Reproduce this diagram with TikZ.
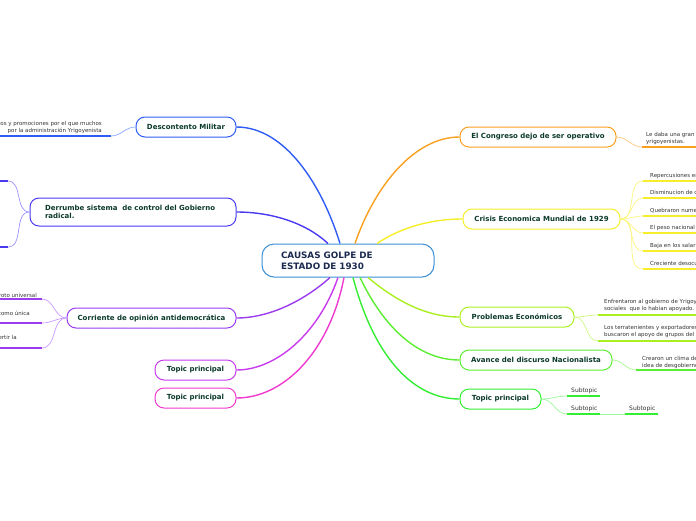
\documentclass[tikz,border=0pt]{standalone}
\usepackage{fontspec}
\setmainfont{DejaVu Sans}
\definecolor{cblue}{HTML}{3B8FD4}
\definecolor{navy}{HTML}{1B2B50}
\definecolor{txt}{HTML}{0B3A2A}
\definecolor{leafc}{HTML}{333333}
\definecolor{cDes}{HTML}{2F5CF5}\definecolor{lDes}{HTML}{88A8FF}
\definecolor{cDer}{HTML}{4A3AF0}\definecolor{lDer}{HTML}{9A90FF}
\definecolor{cCor}{HTML}{9B3CF0}\definecolor{lCor}{HTML}{C899FF}
\definecolor{cTa}{HTML}{C93AEF}
\definecolor{cTb}{HTML}{EF3AD0}
\definecolor{cCon}{HTML}{F9A020}\definecolor{lCon}{HTML}{FCC880}
\definecolor{cCri}{HTML}{F6EE2A}\definecolor{lCri}{HTML}{FAF580}
\definecolor{cPro}{HTML}{AAF020}\definecolor{lPro}{HTML}{D0F880}
\definecolor{cAva}{HTML}{5AEE30}\definecolor{lAva}{HTML}{A8F890}
\definecolor{cTr}{HTML}{33EE33}\definecolor{lTr}{HTML}{99F899}
\tikzset{
  mainbox/.style={draw=#1, line width=1pt, rounded corners=9pt, fill=white,
    font=\bfseries\fontsize{7}{8.5}\selectfont, text=txt, minimum height=20pt, inner xsep=6pt},
  conn/.style={draw=#1, line width=1.4pt},
  subc/.style={draw=#1, line width=0.7pt},
  uline/.style={draw=#1, line width=1.4pt},
  leaf/.style={font=\fontsize{5.5}{7}\selectfont, text=leafc, inner sep=0pt},
  subt/.style={font=\fontsize{6}{7}\selectfont, text=leafc, inner sep=0pt},
}
\begin{document}
\begin{tikzpicture}[x=1pt,y=-1pt]
\useasboundingbox (0,0) rectangle (696,520);
\clip (0,0) rectangle (696,520);

% central node
\node[draw=cblue, line width=1pt, rounded corners=12pt, fill=white,
  minimum width=172pt, minimum height=33pt, text width=134pt, inner xsep=19pt,
  align=left, font=\bfseries\fontsize{8.8}{11}\selectfont, text=navy]
  (center) at (348,260.5) {CAUSAS GOLPE DE\\ESTADO DE 1930};

% main nodes
\node[mainbox=cDes, minimum width=100pt] (des) at (186,127) {Descontento Militar};
\node[mainbox=cDer, minimum width=206pt, minimum height=28pt, text width=176pt,
  inner xsep=15pt, align=left] (der) at (133,212) {Derrumbe sistema \ de control del Gobierno\\radical.};
\node[mainbox=cCor, minimum width=169pt] (cor) at (151.5,318) {Corriente de opinión antidemocrática};
\node[mainbox=cTa, minimum width=81pt] (ta) at (195.5,370) {Topic principal};
\node[mainbox=cTb, minimum width=81pt] (tb) at (195.5,398) {Topic principal};
\node[mainbox=cCon, minimum width=156pt] (con) at (538,137) {El Congreso dejo de ser operativo};
\node[mainbox=cCri, minimum width=157pt] (cri) at (541.5,219) {Crisis Economica Mundial de 1929};
\node[mainbox=cPro, minimum width=114pt] (pro) at (517,317) {Problemas Económicos};
\node[mainbox=cAva, minimum width=152pt] (ava) at (536,360) {Avance del discurso Nacionalista};
\node[mainbox=cTr, minimum width=81pt] (tr) at (500.5,399) {Topic principal};

% main connectors
\draw[conn=cDes] ([xshift=-8pt]center.north) .. controls (322,185) and (285,127) .. (des.east);
\draw[conn=cDer] ([xshift=-20pt]center.north) .. controls (305,222) and (270,212) .. (der.east);
\draw[conn=cCon] ([xshift=7pt]center.north) .. controls (375,185) and (415,137) .. (con.west);
\draw[conn=cCri] ([xshift=29pt]center.north) .. controls (400,228) and (430,219) .. (cri.west);
\draw[conn=cCor] ([xshift=-18pt]center.south) .. controls (305,300) and (270,318) .. (cor.east);
\draw[conn=cTa] ([xshift=-10pt]center.south) .. controls (318,335) and (275,370) .. (ta.east);
\draw[conn=cTb] ([xshift=-4pt]center.south) .. controls (330,350) and (285,398) .. (tb.east);
\draw[conn=cPro] ([xshift=20pt]center.south) .. controls (395,300) and (425,317) .. (pro.west);
\draw[conn=cAva] ([xshift=12pt]center.south) .. controls (385,330) and (420,360) .. (ava.west);
\draw[conn=cTr] ([xshift=5pt]center.south) .. controls (375,360) and (415,399) .. (tr.west);

% Descontento leaf
\coordinate (d1a) at (111,136); \coordinate (d1b) at (-5,136);
\draw[uline=cDes] (d1a) -- (d1b);
\draw[subc=lDes] (des.west) to[out=180,in=0] (d1a);
\node[leaf, anchor=north east, align=right] (d1t) at (102,121)
  {os y promociones por el que muchos\\por la administración Yrigoyenista};

% Derrumbe leaves
\coordinate (r1a) at (8,181); \coordinate (r1b) at (-5,181);
\coordinate (r2a) at (8,247); \coordinate (r2b) at (-5,247);
\draw[uline=cDer] (r1a) -- (r1b);
\draw[uline=cDer] (r2a) -- (r2b);
\draw[subc=lDer] (der.west) to[out=180,in=0] (r1a);
\draw[subc=lDer] (der.west) to[out=180,in=0] (r2a);

% Corriente leaves
\coordinate (k1a) at (42,299); \coordinate (k1b) at (-5,299);
\coordinate (k2a) at (42,323); \coordinate (k2b) at (-5,323);
\coordinate (k3a) at (42,348); \coordinate (k3b) at (-5,348);
\draw[uline=cCor] (k1a) -- (k1b);
\draw[uline=cCor] (k2a) -- (k2b);
\draw[uline=cCor] (k3a) -- (k3b);
\draw[subc=lCor] (cor.west) to[out=180,in=0] (k1a);
\draw[subc=lCor] (cor.west) to[out=180,in=0] (k2a);
\draw[subc=lCor] (cor.west) to[out=180,in=0] (k3a);
\node[leaf, anchor=north east] (k1t) at (37,293) {voto universal};
\node[leaf, anchor=north east] (k2t) at (30,311) {como única};
\node[leaf, anchor=north east] (k3t) at (17,335) {ertir la};

% Congreso leaf
\coordinate (g1a) at (642,147); \coordinate (g1b) at (700,147);
\draw[uline=cCon] (g1a) -- (g1b);
\draw[subc=lCon] (con.east) to[out=0,in=180] (g1a);
\node[leaf, anchor=north west, align=left] (g1t) at (646,132.5) {Le daba una gran\\yrigoyenistas.};

% Crisis leaves
\foreach \i/\yy/\tt in {1/181/{Repercusiones en},2/198/{Disminucion de comercio},3/216/{Quebraron numerosas},
  4/233/{El peso nacional se},5/251/{Baja en los salarios},6/269/{Creciente desocupación}}{
  \coordinate (c\i a) at (643,\yy); \coordinate (c\i b) at (700,\yy);
  \draw[uline=cCri] (c\i a) -- (c\i b);
  \draw[subc=lCri] (cri.east) to[out=0,in=180] (c\i a);
  \node[leaf, anchor=north west] (c\i t) at (650,\yy-8) {\tt};
}

% Problemas leaves
\coordinate (p1a) at (598,315); \coordinate (p1b) at (700,315);
\coordinate (p2a) at (598,341); \coordinate (p2b) at (700,341);
\draw[uline=cPro] (p1a) -- (p1b);
\draw[uline=cPro] (p2a) -- (p2b);
\draw[subc=lPro] (pro.east) to[out=0,in=180] (p1a);
\draw[subc=lPro] (pro.east) to[out=0,in=180] (p2a);
\node[leaf, anchor=north west, align=left] (p1t) at (604,299)
  {Enfrentaron al gobierno de Yrigoyen\\sociales \ que lo habían apoyado.};
\node[leaf, anchor=north west, align=left] (p2t) at (604,325)
  {Los terratenientes y exportadores\\buscaron el apoyo de grupos del};

% Avance leaf
\coordinate (v1a) at (636,370); \coordinate (v1b) at (700,370);
\draw[uline=cAva] (v1a) -- (v1b);
\draw[subc=lAva] (ava.east) to[out=0,in=180] (v1a);
\node[leaf, anchor=north west, align=left] (v1t) at (642,356) {Crearon un clima de\\idea de desgobierno};

% Topic principal right subtopics
\coordinate (s1a) at (567,396); \coordinate (s1b) at (600,396);
\coordinate (s2a) at (567,414); \coordinate (s2b) at (600,414);
\coordinate (s3a) at (625,414); \coordinate (s3b) at (658,414);
\draw[uline=cTr] (s1a) -- (s1b);
\draw[uline=cTr] (s2a) -- (s2b);
\draw[uline=cTr] (s3a) -- (s3b);
\draw[subc=lTr] (tr.east) to[out=0,in=180] (s1a);
\draw[subc=lTr] (tr.east) to[out=0,in=180] (s2a);
\draw[subc=lTr] (s2b) -- (s3a);
\node[subt, anchor=west] (s1t) at (571,391) {Subtopic};
\node[subt, anchor=west] (s2t) at (571,409) {Subtopic};
\node[subt, anchor=west] (s3t) at (629,409) {Subtopic};
\end{tikzpicture}
\end{document}
